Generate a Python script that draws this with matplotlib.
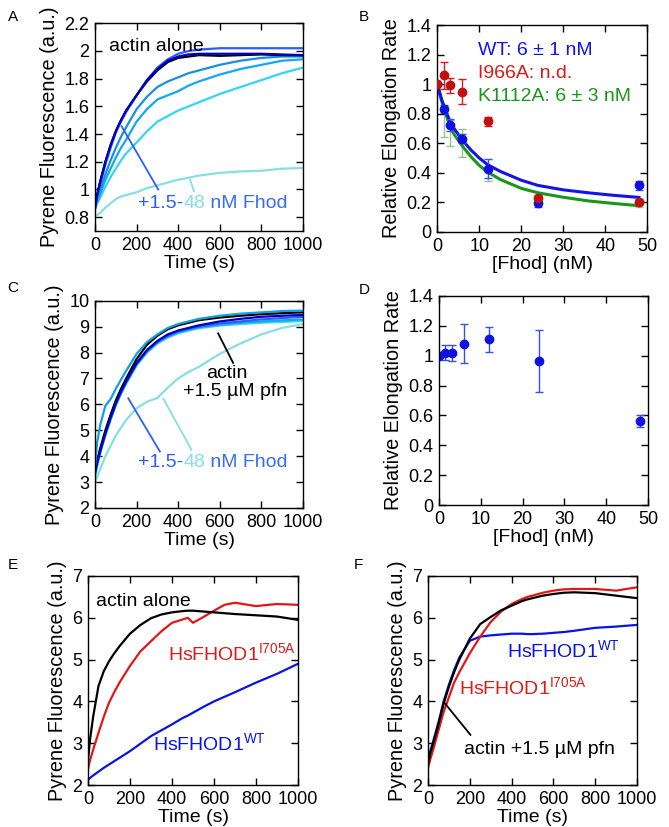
import matplotlib
matplotlib.use('Agg')
import matplotlib.pyplot as plt

plt.rcParams['font.family'] = ['Liberation Sans', 'DejaVu Sans']
plt.rcParams['mathtext.fontset'] = 'custom'
plt.rcParams['mathtext.rm'] = 'Liberation Sans'
plt.rcParams['mathtext.it'] = 'Liberation Sans'
plt.rcParams['mathtext.bf'] = 'Liberation Sans'

# ---------------- data ----------------
# Panel A (actin alone + Fhod titration)
time_a = [0, 10, 25, 50, 75, 100, 125, 150, 200, 250, 300, 350, 400, 450, 500, 600, 700, 800, 900, 1000]
a_actin = [0.87, 0.96, 1.06, 1.20, 1.32, 1.42, 1.50, 1.57, 1.68, 1.78, 1.86, 1.92, 1.95, 1.96, 1.97, 1.965, 1.97, 1.975, 1.97, 1.97]
a_fhod_1p5 = [0.87, 0.96, 1.05, 1.20, 1.32, 1.42, 1.50, 1.57, 1.68, 1.79, 1.87, 1.93, 1.96, 1.975, 1.98, 1.98, 1.98, 1.98, 1.975, 1.97]
a_fhod_3 = [0.86, 0.95, 1.04, 1.18, 1.30, 1.41, 1.49, 1.56, 1.68, 1.79, 1.88, 1.94, 1.98, 2.0, 2.01, 2.02, 2.02, 2.02, 2.02, 2.02]
a_fhod_6 = [0.86, 0.93, 1.00, 1.11, 1.21, 1.30, 1.38, 1.45, 1.58, 1.67, 1.74, 1.78, 1.81, 1.84, 1.86, 1.90, 1.93, 1.95, 1.96, 1.96]
a_fhod_12 = [0.86, 0.91, 0.97, 1.07, 1.15, 1.23, 1.30, 1.36, 1.49, 1.58, 1.65, 1.68, 1.71, 1.75, 1.78, 1.83, 1.87, 1.90, 1.93, 1.94]
a_fhod_24 = [0.86, 0.90, 0.94, 1.02, 1.09, 1.15, 1.21, 1.26, 1.34, 1.42, 1.49, 1.53, 1.57, 1.60, 1.63, 1.69, 1.74, 1.79, 1.84, 1.88]
a_fhod_48 = [0.80, 0.815, 0.83, 0.87, 0.90, 0.93, 0.95, 0.96, 0.98, 1.01, 1.03, 1.05, 1.07, 1.085, 1.10, 1.12, 1.13, 1.135, 1.15, 1.155]

# Panel B (relative elongation rate vs [Fhod])
fhod_conc = [0, 1.5, 3, 6, 12, 24, 48]
b_wt = [1.0, 0.832, 0.726, 0.631, 0.428, 0.196, 0.315]
b_wt_err = [0.0, 0.03, 0.04, 0.03, 0.065, 0.03, 0.03]
b_i966a = [1.0, 1.06, 0.992, 0.95, 0.748, 0.23, 0.20]
b_i966a_err = [0.0, 0.09, 0.05, 0.085, 0.03, 0.02, 0.02]
b_k1112a = [1.0, 0.73, 0.67, 0.60, 0.39, 0.22, 0.19]
b_k1112a_err = [0.0, 0.09, 0.085, 0.095, 0.045, 0.02, 0.02]
fit_conc = [0, 0.5, 1, 1.5, 2, 3, 4, 6, 8, 10, 12, 15, 20, 24, 30, 36, 42, 48]
fit_wt = [1.0, 0.95, 0.90, 0.86, 0.82, 0.75, 0.70, 0.62, 0.555, 0.50, 0.455, 0.41, 0.35, 0.315, 0.285, 0.265, 0.248, 0.234]
fit_k1112a = [1.0, 0.94, 0.89, 0.84, 0.80, 0.72, 0.66, 0.58, 0.51, 0.45, 0.405, 0.355, 0.295, 0.265, 0.235, 0.21, 0.193, 0.178]

# Panel C (actin + 1.5 uM profilin + Fhod titration)
c_actin_pfn = [3.4, 3.8, 4.3, 5.0, 5.6, 6.15, 6.6, 7.0, 7.75, 8.3, 8.65, 8.9, 9.05, 9.15, 9.25, 9.35, 9.42, 9.48, 9.52, 9.55]
c_fhod_1p5 = [3.4, 3.75, 4.2, 4.9, 5.5, 6.05, 6.5, 6.9, 7.6, 8.1, 8.45, 8.7, 8.85, 8.95, 9.05, 9.2, 9.3, 9.38, 9.42, 9.45]
c_fhod_3 = [3.3, 3.7, 4.2, 4.85, 5.45, 6.0, 6.45, 6.85, 7.55, 8.05, 8.4, 8.65, 8.82, 8.92, 9.0, 9.12, 9.2, 9.28, 9.33, 9.38]
c_fhod_6 = [3.6, 4.5, 5.2, 5.95, 6.2, 6.6, 6.95, 7.3, 7.95, 8.4, 8.7, 8.95, 9.1, 9.2, 9.3, 9.42, 9.5, 9.55, 9.6, 9.62]
c_fhod_12 = [3.3, 3.7, 4.15, 4.85, 5.45, 6.0, 6.45, 6.85, 7.55, 8.05, 8.4, 8.62, 8.78, 8.88, 8.98, 9.08, 9.15, 9.2, 9.24, 9.28]
c_fhod_24 = [3.2, 3.6, 4.1, 4.8, 5.4, 5.95, 6.4, 6.8, 7.5, 8.0, 8.35, 8.58, 8.74, 8.85, 8.94, 9.04, 9.1, 9.15, 9.18, 9.22]
c_fhod_48 = [2.95, 3.2, 3.5, 4.0, 4.4, 4.8, 5.1, 5.4, 5.85, 6.1, 6.25, 6.65, 7.0, 7.25, 7.45, 7.95, 8.35, 8.7, 8.95, 9.1]

# Panel D (relative elongation rate with profilin)
d_rate = [1.0, 1.02, 1.02, 1.08, 1.11, 0.965, 0.565]
d_err = [0.0, 0.05, 0.055, 0.13, 0.085, 0.21, 0.04]

# Panels E and F (HsFHOD1)
time_ef = [0, 10, 25, 50, 75, 100, 125, 150, 200, 250, 300, 350, 400, 450, 475, 500, 550, 600, 650, 700, 800, 900, 1000]
e_actin = [2.6, 3.1, 3.65, 4.37, 4.72, 4.96, 5.15, 5.32, 5.62, 5.83, 5.99, 6.08, 6.13, 6.16, 6.17, 6.17, 6.15, 6.13, 6.11, 6.09, 6.06, 6.03, 5.95]
e_i705a = [2.39, 2.6, 2.85, 3.25, 3.63, 3.97, 4.22, 4.45, 4.85, 5.2, 5.44, 5.68, 5.88, 5.96, 6.0, 5.88, 6.02, 6.17, 6.31, 6.36, 6.28, 6.33, 6.31]
e_wt = [2.13, 2.17, 2.23, 2.32, 2.41, 2.49, 2.57, 2.65, 2.81, 2.99, 3.17, 3.31, 3.45, 3.6, 3.66, 3.73, 3.87, 4.0, 4.11, 4.22, 4.45, 4.66, 4.9]
f_actin_pfn = [2.5, 2.75, 3.0, 3.45, 3.95, 4.35, 4.7, 5.0, 5.5, 5.85, 6.02, 6.18, 6.29, 6.4, 6.44, 6.47, 6.53, 6.57, 6.6, 6.61, 6.59, 6.53, 6.47]
f_i705a = [2.4, 2.6, 2.85, 3.3, 3.75, 4.1, 4.45, 4.7, 5.15, 5.55, 5.9, 6.15, 6.33, 6.45, 6.5, 6.53, 6.6, 6.65, 6.68, 6.69, 6.69, 6.65, 6.73]
f_wt = [2.55, 2.8, 3.05, 3.5, 4.0, 4.4, 4.75, 5.05, 5.45, 5.55, 5.58, 5.6, 5.62, 5.62, 5.61, 5.61, 5.62, 5.64, 5.66, 5.69, 5.76, 5.79, 5.83]

time_ticks = [0, 200, 400, 600, 800, 1000]
conc_ticks = [0, 10, 20, 30, 40, 50]

# ---------------- styling ----------------
FS = 13      # tick labels
FL = 14      # axis labels
FY = 14.3    # y labels
FA = 14      # annotations
BLACK = '#000000'
NAVY = '#0000C0'
BLUE = '#2E5CFF'
C6 = '#1A8FE0'
C12 = '#10AAEA'
C24 = '#34D4F2'
C48 = '#86DEE6'
WT_BLUE = '#1010E0'
RED = '#E01818'
DARKRED = '#C01010'
GREEN = '#1A961A'
LABEL_BLUE = '#3A6CF5'

fig = plt.figure(figsize=(6.69, 8.27), dpi=100)
W, H = 669.0, 827.0


def make_ax(left, top, right, bottom):
    return fig.add_axes([left / W, 1 - bottom / H, (right - left) / W, (bottom - top) / H])


def style(ax):
    ax.tick_params(direction='in', length=5, width=1, top=True, right=True,
                   labelsize=FS, pad=4)
    for s in ax.spines.values():
        s.set_linewidth(1.0)


def ylab(v):
    return ('%g' % v)


lw = 1.6

# ---- Panel A ----
axA = make_ax(95, 23.3, 303, 231)
for y, c in [(a_fhod_48, C48), (a_fhod_24, C24), (a_fhod_12, C12), (a_fhod_6, C6),
             (a_actin, BLACK), (a_fhod_3, BLUE), (a_fhod_1p5, NAVY)]:
    axA.plot(time_a, y, color=c, lw=lw)
axA.set_xlim(0, 1000)
axA.set_ylim(0.7, 2.2)
axA.set_xticks(time_ticks)
ya = [0.8, 1.0, 1.2, 1.4, 1.6, 1.8, 2.0, 2.2]
axA.set_yticks(ya)
axA.set_yticklabels([ylab(v) for v in ya])
axA.set_xlabel('Time (s)', fontsize=FL, labelpad=1)
axA.set_ylabel('Pyrene Fluorescence (a.u.)', fontsize=FY)
style(axA)
axA.text(68, 2.03, 'actin alone', fontsize=FA, color=BLACK, va='center')
axA.plot([128, 304], [1.456, 1.0], color=BLUE, lw=1.3)
axA.plot([457, 476], [1.072, 0.987], color=C48, lw=1.3)
t1 = axA.text(208, 0.90, '+1.5-', fontsize=FA, color=BLUE, va='center')
t2 = axA.annotate('48', xy=(1, 0), xycoords=t1, va='bottom', ha='left', fontsize=FA, color=C48)
axA.annotate(' nM Fhod', xy=(1, 0), xycoords=t2, va='bottom', ha='left', fontsize=FA, color=LABEL_BLUE)

# ---- Panel B ----
axB = make_ax(437.3, 25, 647.3, 232)
axB.plot(fit_conc, fit_k1112a, color=GREEN, lw=2.2, zorder=2)
axB.plot(fit_conc, fit_wt, color='#1414E6', lw=2.2, zorder=3)
axB.errorbar(fhod_conc, b_k1112a, yerr=b_k1112a_err, fmt='o', color='#6AAA6A', ecolor='#7AB87A',
             ms=0, capsize=3, elinewidth=1, alpha=0.8, zorder=1)
axB.errorbar(fhod_conc, b_wt, yerr=b_wt_err, fmt='o', color=WT_BLUE, ecolor='#3050F0',
             ms=6, capsize=3, elinewidth=1, zorder=4)
axB.errorbar(fhod_conc, b_i966a, yerr=b_i966a_err, fmt='o', color=DARKRED, ecolor=RED,
             ms=6, capsize=3, elinewidth=1, zorder=5)
axB.set_xlim(0, 50)
axB.set_ylim(0, 1.4)
axB.set_xticks(conc_ticks)
yt = [0, 0.2, 0.4, 0.6, 0.8, 1.0, 1.2, 1.4]
axB.set_yticks(yt)
axB.set_yticklabels([ylab(v) for v in yt])
axB.set_xlabel('[Fhod] (nM)', fontsize=FL, labelpad=1)
axB.set_ylabel('Relative Elongation Rate', fontsize=FY)
style(axB)
axB.text(9.8, 1.227, 'WT: 6 \u00b1 1 nM', fontsize=FA, color='#1414E6', va='center')
axB.text(9.8, 1.069, 'I966A: n.d.', fontsize=FA, color=RED, va='center')
axB.text(9.8, 0.916, 'K1112A: 6 \u00b1 3 nM', fontsize=FA, color=GREEN, va='center')

# ---- Panel C ----
axC = make_ax(95, 300.7, 303, 508)
for y, c in [(c_fhod_48, C48), (c_fhod_24, C24), (c_fhod_12, C12), (c_fhod_3, BLUE),
             (c_actin_pfn, BLACK), (c_fhod_1p5, NAVY), (c_fhod_6, '#12A0DE')]:
    axC.plot(time_a, y, color=c, lw=lw)
axC.set_xlim(0, 1000)
axC.set_ylim(2, 10)
axC.set_xticks(time_ticks)
axC.set_yticks(range(2, 11))
axC.set_xlabel('Time (s)', fontsize=FL, labelpad=1)
axC.set_ylabel('Pyrene Fluorescence (a.u.)', fontsize=FY)
style(axC)
axC.plot([592, 664], [8.74, 7.6], color=BLACK, lw=1.3)
axC.text(632, 7.2, 'actin', fontsize=FA, color=BLACK, ha='center', va='center')
axC.text(675, 6.5, '+1.5 \u00b5M pfn', fontsize=FA, color=BLACK, ha='center', va='center')
axC.plot([160, 312], [6.23, 4.18], color=BLUE, lw=1.3)
axC.plot([328, 464], [6.23, 4.24], color=C48, lw=1.3)
u1 = axC.text(208, 3.76, '+1.5-', fontsize=FA, color=BLUE, va='center')
u2 = axC.annotate('48', xy=(1, 0), xycoords=u1, va='bottom', ha='left', fontsize=FA, color=C48)
axC.annotate(' nM Fhod', xy=(1, 0), xycoords=u2, va='bottom', ha='left', fontsize=FA, color=LABEL_BLUE)

# ---- Panel D ----
axD = make_ax(439, 296, 648, 505)
axD.errorbar(fhod_conc, d_rate, yerr=d_err, fmt='o', color=WT_BLUE, ecolor='#3050F0',
             ms=6, capsize=3, elinewidth=1)
axD.set_xlim(0, 50)
axD.set_ylim(0, 1.4)
axD.set_xticks(conc_ticks)
axD.set_yticks(yt)
axD.set_yticklabels([ylab(v) for v in yt])
axD.set_xlabel('[Fhod] (nM)', fontsize=FL, labelpad=1)
axD.set_ylabel('Relative Elongation Rate', fontsize=FY)
style(axD)

# ---- Panel E ----
axE = make_ax(88, 576, 298, 785)
axE.plot(time_ef, e_wt, color='#0A14E0', lw=lw)
axE.plot(time_ef, e_i705a, color=RED, lw=lw)
axE.plot(time_ef, e_actin, color=BLACK, lw=lw)
axE.set_xlim(0, 1000)
axE.set_ylim(2, 7)
axE.set_xticks(time_ticks)
axE.set_yticks(range(2, 8))
axE.set_xlabel('Time (s)', fontsize=FL, labelpad=1)
axE.set_ylabel('Pyrene Fluorescence (a.u.)', fontsize=FY)
style(axE)
axE.text(40, 6.39, 'actin alone', fontsize=FA, color=BLACK, va='center')
axE.text(382, 5.15, r'HsFHOD1$^{\mathregular{I705A}}$', fontsize=FA, color=RED, va='center')
axE.text(310, 3.0, r'HsFHOD1$^{\mathregular{WT}}$', fontsize=FA, color='#0A14E0', va='center')

# ---- Panel F ----
axF = make_ax(428, 576, 637, 785)
axF.plot(time_ef, f_wt, color='#0A14E0', lw=lw)
axF.plot(time_ef, f_i705a, color=RED, lw=lw)
axF.plot(time_ef, f_actin_pfn, color=BLACK, lw=lw)
axF.set_xlim(0, 1000)
axF.set_ylim(2, 7)
axF.set_xticks(time_ticks)
axF.set_yticks(range(2, 8))
axF.set_xlabel('Time (s)', fontsize=FL, labelpad=1)
axF.set_ylabel('Pyrene Fluorescence (a.u.)', fontsize=FY)
style(axF)
axF.text(378, 5.23, r'HsFHOD1$^{\mathregular{WT}}$', fontsize=FA, color='#0A14E0', va='center')
axF.text(147, 4.35, r'HsFHOD1$^{\mathregular{I705A}}$', fontsize=FA, color=RED, va='center')
axF.plot([75, 203], [3.99, 3.20], color=BLACK, lw=1.3)
axF.text(171, 2.84, 'actin +1.5 \u00b5M pfn', fontsize=FA, color=BLACK, va='center')

# panel letters
for lab, x, y in [('A', 13, 17), ('B', 364, 17), ('C', 13, 288), ('D', 364, 290),
                  ('E', 13, 565), ('F', 358, 565)]:
    fig.text(x / W, 1 - y / H, lab, fontsize=11, ha='center', va='center')

fig.savefig('out.png', dpi=100)
